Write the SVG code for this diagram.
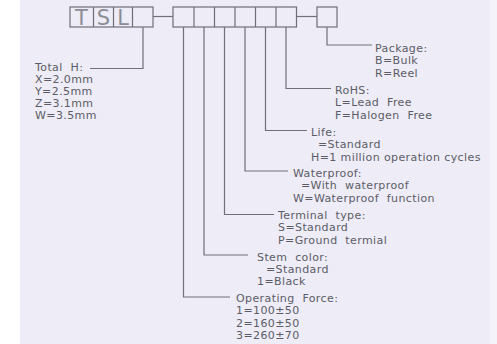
<svg xmlns="http://www.w3.org/2000/svg" width="497" height="344" viewBox="0 0 497 344">
<style>
.bg{fill:#edecf7}
.box{fill:none;stroke:#6e6e78;stroke-width:1.2}
.ln{fill:none;stroke:#707078;stroke-width:1.2}
.t{font-family:"DejaVu Sans",sans-serif;font-size:11px;letter-spacing:0.4px;fill:#5c5c66;white-space:pre}
.big{font-family:"DejaVu Sans",sans-serif;font-size:21px;fill:#8c8c96}
</style>
<rect x="0" y="0" width="497" height="344" fill="#ffffff"/>
<rect class="bg" x="20" y="0" width="470" height="344"/>
<rect x="490" y="0" width="7" height="344" fill="#f4f3fa"/>

<g id="code-prefix">
<rect class="box" x="70" y="7" width="83" height="20"/>
<line class="box" x1="93.5" y1="7" x2="93.5" y2="27"/>
<line class="box" x1="113.5" y1="7" x2="113.5" y2="27"/>
<line class="box" x1="132.5" y1="7" x2="132.5" y2="27"/>
<text class="big" x="81.5" y="25" text-anchor="middle">T</text>
<text class="big" x="103.5" y="25" text-anchor="middle">S</text>
<text class="big" x="123" y="25" text-anchor="middle">L</text>
</g>

<g id="code-options">
<rect class="box" x="173" y="7" width="123.5" height="20"/>
<line class="box" x1="194" y1="7" x2="194" y2="27"/>
<line class="box" x1="214.5" y1="7" x2="214.5" y2="27"/>
<line class="box" x1="235" y1="7" x2="235" y2="27"/>
<line class="box" x1="255.5" y1="7" x2="255.5" y2="27"/>
<line class="box" x1="276" y1="7" x2="276" y2="27"/>
</g>

<g id="code-package">
<rect class="box" x="317" y="7" width="20" height="20"/>
</g>

<g id="connectors">
<line class="ln" x1="153" y1="16.5" x2="173" y2="16.5"/>
<line class="ln" x1="296.5" y1="16.5" x2="317" y2="16.5"/>
<polyline class="ln" points="143,27 143,68.5 90,68.5"/>
<polyline class="ln" points="327,27 327,45 372,45"/>
<polyline class="ln" points="286,27 286,88.5 331,88.5"/>
<polyline class="ln" points="265.5,27 265.5,130.5 307,130.5"/>
<polyline class="ln" points="245,27 245,171 288,171"/>
<polyline class="ln" points="224.5,27 224.5,214.5 274,214.5"/>
<polyline class="ln" points="204,27 204,255 248,255"/>
<polyline class="ln" points="183.5,27 183.5,297 230,297"/>
</g>

<g id="total-h">
<text class="t" x="35" y="71">Total  H:</text>
<text class="t" x="35" y="83">X=2.0mm</text>
<text class="t" x="35" y="95">Y=2.5mm</text>
<text class="t" x="35" y="107">Z=3.1mm</text>
<text class="t" x="35" y="119">W=3.5mm</text>
</g>

<g id="package">
<text class="t" x="375" y="52">Package:</text>
<text class="t" x="375" y="64.3">B=Bulk</text>
<text class="t" x="375" y="76.6">R=Reel</text>
</g>

<g id="rohs">
<text class="t" x="335" y="94">RoHS:</text>
<text class="t" x="335" y="106.3">L=Lead  Free</text>
<text class="t" x="335" y="118.6">F=Halogen  Free</text>
</g>

<g id="life">
<text class="t" x="311" y="136">Life:</text>
<text class="t" x="318" y="148.3">=Standard</text>
<text class="t" x="311" y="160.6">H=1 million operation cycles</text>
</g>

<g id="waterproof">
<text class="t" x="293" y="177">Waterproof:</text>
<text class="t" x="301" y="189.3">=With  waterproof</text>
<text class="t" x="293" y="201.6">W=Waterproof  function</text>
</g>

<g id="terminal">
<text class="t" x="278" y="219">Terminal  type:</text>
<text class="t" x="278" y="231.3">S=Standard</text>
<text class="t" x="278" y="243.6">P=Ground  termial</text>
</g>

<g id="stem">
<text class="t" x="257" y="260.5">Stem  color:</text>
<text class="t" x="266" y="272.8">=Standard</text>
<text class="t" x="257" y="285.1">1=Black</text>
</g>

<g id="force">
<text class="t" x="236" y="302">Operating  Force:</text>
<text class="t" x="236" y="314.3">1=100±50</text>
<text class="t" x="236" y="326.6">2=160±50</text>
<text class="t" x="236" y="338.9">3=260±70</text>
</g>
</svg>
